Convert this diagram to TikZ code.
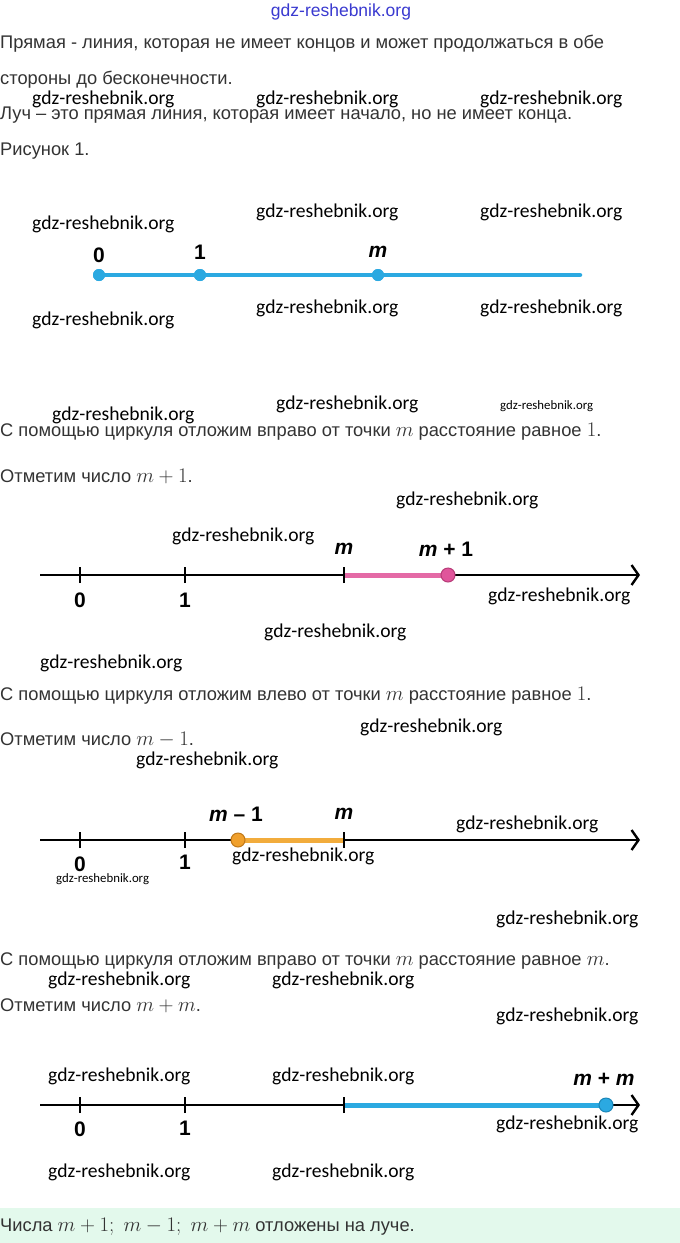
\documentclass[tikz,border=0pt]{standalone}
\usepackage{fontspec}
\setmainfont{Liberation Sans}
\newfontfamily\wmfont{Carlito}
\usetikzlibrary{arrows.meta}
\definecolor{txt}{HTML}{333333}
\definecolor{rayblue}{HTML}{2BA9E1}
\definecolor{pinkseg}{HTML}{E46AA6}
\definecolor{pinkdot}{HTML}{E0559B}
\definecolor{pinkedge}{HTML}{B83C78}
\definecolor{orangeseg}{HTML}{F2AC3C}
\definecolor{orangedot}{HTML}{F0A02C}
\definecolor{orangeedge}{HTML}{C07818}
\definecolor{blueedge}{HTML}{1A86B8}
\definecolor{band}{HTML}{E3F9EC}
\definecolor{topwm}{HTML}{3A3AD0}
\newcommand\bigmath[1]{{\fontsize{21}{24}\selectfont$#1$}}
\begin{document}
\begin{tikzpicture}[x=1pt,y=-1pt,
  body/.style={anchor=west,inner sep=0pt,text=txt,font=\fontsize{18.3}{21}\selectfont},
  wmk/.style={anchor=west,inner sep=0pt,text=black,font=\wmfont\fontsize{19.6}{22}\selectfont},
  wms/.style={anchor=west,inner sep=0pt,text=black,font=\wmfont\fontsize{12.8}{15}\selectfont},
  lab/.style={inner sep=0pt,text=black,font=\bfseries\fontsize{21}{25}\selectfont},
  axisline/.style={line width=2.4pt,-{Straight Barb[length=7pt,width=20pt,line width=2.4pt]}},
  tickmark/.style={line width=2pt},
  dotp/.style={circle,inner sep=0pt,minimum size=#1},
]
\useasboundingbox (0,0) rectangle (680,1243);
\fill[white] (0,0) rectangle (680,1243);
\fill[band] (0,1208) rectangle (680,1243);

% top watermark
\node[inner sep=0pt,text=topwm,font=\fontsize{17.5}{20}\selectfont] (wtop) at (341,12) {gdz-reshebnik.org};

% intro text
\node[body] (t1) at (0,44) {Прямая - линия, которая не имеет концов и может продолжаться в обе};
\node[body] (t2) at (0,80) {стороны до бесконечности.};
\node[body] (t3) at (0,115) {Луч – это прямая линия, которая имеет начало, но не имеет конца.};
\node[body] (t4) at (0,151) {Рисунок 1.};
\node[wmk] (w1) at (32,99) {gdz-reshebnik.org};
\node[wmk] (w2) at (256,99) {gdz-reshebnik.org};
\node[wmk] (w3) at (480,99) {gdz-reshebnik.org};

% Figure 1
\node[wmk] (w4) at (32,224) {gdz-reshebnik.org};
\node[wmk] (w5) at (256,212) {gdz-reshebnik.org};
\node[wmk] (w6) at (480,212) {gdz-reshebnik.org};
\node[wmk] (w7) at (32,320) {gdz-reshebnik.org};
\node[wmk] (w8) at (256,308) {gdz-reshebnik.org};
\node[wmk] (w9) at (480,308) {gdz-reshebnik.org};
\coordinate (rEnd) at (580,275);
\node[dotp=12pt,fill=rayblue] (r0) at (99,275) {};
\node[dotp=12pt,fill=rayblue] (r1) at (200,275) {};
\node[dotp=12pt,fill=rayblue] (rm) at (378,275) {};
\draw[rayblue,line width=4.5pt,line cap=round] (r0.center) -- (rEnd);
\node[dotp=12pt,fill=rayblue] at (99,275) {};
\node[dotp=12pt,fill=rayblue] at (200,275) {};
\node[dotp=12pt,fill=rayblue] at (378,275) {};
\node[lab] (l0) at (99,255) {0};
\node[lab] (l1) at (200,252) {1};
\node[lab] (lm) at (378,252) {\itshape m};

% Section 2
\node[wmk] (w10) at (52,415) {gdz-reshebnik.org};
\node[wmk] (w11) at (276,404) {gdz-reshebnik.org};
\node[wms] (w12) at (500,406) {gdz-reshebnik.org};
\node[body] (t5) at (0,432) {С помощью циркуля отложим вправо от точки \bigmath{m} расстояние равное \bigmath{1}.};
\node[body] (t6) at (0,476) {Отметим число \bigmath{m+1}.};
\node[wmk] (w13) at (396,500) {gdz-reshebnik.org};
\node[wmk] (w14) at (172,536) {gdz-reshebnik.org};
\coordinate (aS) at (40,575);
\coordinate (aE) at (640,575);
\coordinate (a0) at (80,575);
\coordinate (a1) at (185,575);
\coordinate (am) at (344,575);
\draw[axisline] (aS) -- (aE);
\draw[pinkseg,line width=5pt] (am) -- (448,575);
\node[dotp=14pt,fill=pinkdot,draw=pinkedge,line width=1pt] (amp) at (448,575) {};
\foreach \c in {a0,a1,am} \draw[tickmark] ([yshift=-8pt]\c) -- ([yshift=8pt]\c);
\node[lab] (la0) at (80,600) {0};
\node[lab] (la1) at (185,600) {1};
\node[lab] (lam) at (344,549) {\itshape m};
\node[lab] (lamp) at (446,549) {\itshape m\upshape\ + 1};
\node[wmk] (w15) at (488,596) {gdz-reshebnik.org};
\node[wmk] (w16) at (264,632) {gdz-reshebnik.org};
\node[wmk] (w17) at (40,663) {gdz-reshebnik.org};

% Section 3
\node[body] (t7) at (0,696) {С помощью циркуля отложим влево от точки \bigmath{m} расстояние равное \bigmath{1}.};
\node[wmk] (w18) at (360,727) {gdz-reshebnik.org};
\node[body] (t8) at (0,740) {Отметим число \bigmath{m-1}.};
\node[wmk] (w19) at (136,760) {gdz-reshebnik.org};
\coordinate (bS) at (40,840);
\coordinate (bE) at (640,840);
\coordinate (b0) at (80,840);
\coordinate (b1) at (185,840);
\coordinate (bm) at (344,840);
\draw[axisline] (bS) -- (bE);
\draw[orangeseg,line width=5pt] (238,840) -- (bm);
\node[dotp=14pt,fill=orangedot,draw=orangeedge,line width=1pt] (bmm) at (238,840) {};
\foreach \c in {b0,b1,bm} \draw[tickmark] ([yshift=-8pt]\c) -- ([yshift=8pt]\c);
\node[lab] (lb0) at (80,864) {0};
\node[lab] (lb1) at (185,862) {1};
\node[lab] (lbmm) at (236,814) {\itshape m\upshape\ – 1};
\node[lab] (lbm) at (344,814) {\itshape m};
\node[wmk] (w20) at (456,824) {gdz-reshebnik.org};
\node[wmk] (w21) at (232,856) {gdz-reshebnik.org};
\node[wms] (w22) at (56,879) {gdz-reshebnik.org};
\node[wmk] (w23) at (496,919) {gdz-reshebnik.org};

% Section 4
\node[body] (t9) at (0,961) {С помощью циркуля отложим вправо от точки \bigmath{m} расстояние равное \bigmath{m}.};
\node[wmk] (w24) at (48,980) {gdz-reshebnik.org};
\node[wmk] (w25) at (272,980) {gdz-reshebnik.org};
\node[body] (t10) at (0,1006) {Отметим число \bigmath{m+m}.};
\node[wmk] (w26) at (496,1016) {gdz-reshebnik.org};
\coordinate (cS) at (40,1105);
\coordinate (cE) at (640,1105);
\coordinate (c0) at (80,1105);
\coordinate (c1) at (185,1105);
\coordinate (cm) at (344,1105);
\draw[axisline] (cS) -- (cE);
\draw[rayblue,line width=5pt] (cm) -- (606,1105);
\node[dotp=14pt,fill=rayblue,draw=blueedge,line width=1pt] (cmm) at (606,1105) {};
\foreach \c in {c0,c1,cm} \draw[tickmark] ([yshift=-8pt]\c) -- ([yshift=8pt]\c);
\node[lab] (lc0) at (80,1129) {0};
\node[lab] (lc1) at (185,1128) {1};
\node[lab] (lcmm) at (604,1079) {\itshape m\upshape\ + \itshape m};
\node[wmk] (w27) at (48,1076) {gdz-reshebnik.org};
\node[wmk] (w28) at (272,1076) {gdz-reshebnik.org};
\node[wmk] (w29) at (496,1124) {gdz-reshebnik.org};
\node[wmk] (w30) at (48,1172) {gdz-reshebnik.org};
\node[wmk] (w31) at (272,1172) {gdz-reshebnik.org};

% conclusion
\node[body] (t11) at (0,1227) {Числа \bigmath{m+1;\ m-1;\ m+m} отложены на луче.};
\end{tikzpicture}
\end{document}
